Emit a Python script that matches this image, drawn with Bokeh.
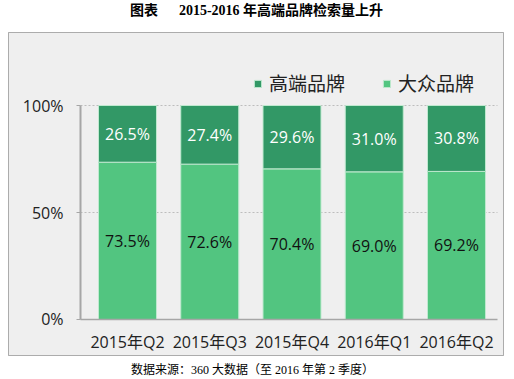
from bokeh.plotting import figure
from bokeh.models import (ColumnDataSource, Range1d, FixedTicker, Label, BoxAnnotation,
                          Legend, LegendItem)
from bokeh.embed import file_html
from bokeh.resources import INLINE
from bokeh.core.properties import value

# ---- data ----
quarters = ["2015年Q2", "2015年Q3", "2015年Q4", "2016年Q1", "2016年Q2"]
mass = [73.5, 72.6, 70.4, 69.0, 69.2]        # 大众品牌
premium = [26.5, 27.4, 29.6, 31.0, 30.8]     # 高端品牌
y_ticks = [0, 50, 100]
y_tick_labels = ["0%", "50%", "100%"]
grid_ticks = [50, 100]
series_names = ["高端品牌", "大众品牌"]
title_text = "图表\u3000\u00a0\u00a02015-2016\u00a0年高端品牌检索量上升"
source_text = "数据来源：360\u00a0大数据（至\u00a02016\u00a0年第\u00a02\u00a0季度）"

DARK = "#329866"
LIGHT = "#52c580"
BG = "#efefef"
SANS = "'Open Sans', 'Noto Sans CJK SC', sans-serif"
SERIF = "'Liberation Serif', 'Noto Sans CJK SC', serif"

xs = list(range(len(quarters)))
src = ColumnDataSource(dict(
    x=xs, mass=mass, premium=premium,
    mass_mid=[m / 2 for m in mass],
    prem_mid=[m + q / 2 for m, q in zip(mass, premium)],
    mass_lbl=[f"{m:.1f}%" for m in mass],
    prem_lbl=[f"{q:.1f}%" for q in premium],
))

W, H = 514, 379
# plot frame fills the whole canvas; axes sit at fixed locations inside it
X0, X1 = -1.5441, 4.7052
Y0, Y1 = -28.04, 149.07
AX_LEFT, AX_RIGHT = -0.5714, 4.498

p = figure(width=W, height=H, output_backend="svg", toolbar_location=None,
           x_range=Range1d(X0, X1), y_range=Range1d(Y0, Y1),
           min_border=0, min_border_left=0, min_border_right=0,
           min_border_top=0, min_border_bottom=0,
           background_fill_color="white", border_fill_color="white", outline_line_color=None)

# chart box: light grey panel with a black border (screen px from bottom-left)
p.add_layout(BoxAnnotation(left=8, right=503, top=347, bottom=24,
                           left_units="screen", right_units="screen",
                           top_units="screen", bottom_units="screen",
                           fill_color=BG, fill_alpha=1.0, line_color="black", line_width=1,
                           level="image"))

# dotted gridlines (only across the plotting area)
p.xgrid.visible = False
p.ygrid.visible = False
p.segment(x0=[AX_LEFT] * len(grid_ticks), x1=[AX_RIGHT] * len(grid_ticks),
          y0=grid_ticks, y1=grid_ticks, line_color="#bdbdbd", line_dash="2 2", line_width=1)

rs = p.vbar_stack(["mass", "premium"], x="x", width=0.705, source=src,
                  fill_color=[LIGHT, DARK], line_color="#bfe9cf", line_width=1)
r_mass, r_prem = rs

p.text(x="x", y="mass_mid", text="mass_lbl", source=src, text_align="center",
       text_baseline="middle", text_font=value(SANS), text_font_size="16px", text_color="#111111")
p.text(x="x", y="prem_mid", text="prem_lbl", source=src, text_align="center",
       text_baseline="middle", text_font=value(SANS), text_font_size="16px", text_color="white")

# y axis
p.yaxis.fixed_location = AX_LEFT
p.yaxis.ticker = FixedTicker(ticks=y_ticks)
p.yaxis.bounds = (0, 100)
p.yaxis.major_label_overrides = {t: l for t, l in zip(y_ticks, y_tick_labels)}
p.yaxis.axis_line_color = "#a6a6a6"
p.yaxis.axis_line_width = 2
p.yaxis.major_tick_line_color = "#a6a6a6"
p.yaxis.major_tick_out = 4
p.yaxis.major_tick_in = 0
p.yaxis.minor_tick_line_color = None
p.yaxis.major_label_standoff = 13
p.yaxis.major_label_text_font = SANS
p.yaxis.major_label_text_font_size = "16px"
p.yaxis.major_label_text_color = "#222222"

# x axis
p.xaxis.fixed_location = 0
p.xaxis.ticker = FixedTicker(ticks=xs)
p.xaxis.bounds = (AX_LEFT, AX_RIGHT)
p.xaxis.major_label_overrides = {i: q for i, q in zip(xs, quarters)}
p.xaxis.axis_line_color = "#a6a6a6"
p.xaxis.axis_line_width = 1.5
p.xaxis.major_tick_line_color = None
p.xaxis.major_tick_out = 0
p.xaxis.minor_tick_line_color = None
p.xaxis.major_label_standoff = 12
p.xaxis.major_label_text_font = SANS
p.xaxis.major_label_text_font_size = "16px"
p.xaxis.major_label_text_color = "#222222"

# legend
legend = Legend(items=[LegendItem(label=series_names[0], renderers=[r_prem]),
                       LegendItem(label=series_names[1], renderers=[r_mass])],
                orientation="horizontal", location=(253, 282), padding=0, margin=0,
                spacing=37, label_standoff=7, glyph_width=9, glyph_height=9,
                border_line_color=None, background_fill_alpha=0,
                label_text_font=SANS, label_text_font_size="19px", label_text_color="#222222")
p.add_layout(legend, "center")

# title and source
p.add_layout(Label(x=256, y=369, x_units="screen", y_units="screen", text=title_text,
                   text_align="center", text_baseline="middle", text_font=SERIF,
                   text_font_size="14px", text_font_style="bold", text_color="black"))
p.add_layout(Label(x=252, y=10, x_units="screen", y_units="screen", text=source_text,
                   text_align="center", text_baseline="middle", text_font=SERIF,
                   text_font_size="12px", text_color="black"))

open("out.html", "w").write(file_html(p, INLINE))
